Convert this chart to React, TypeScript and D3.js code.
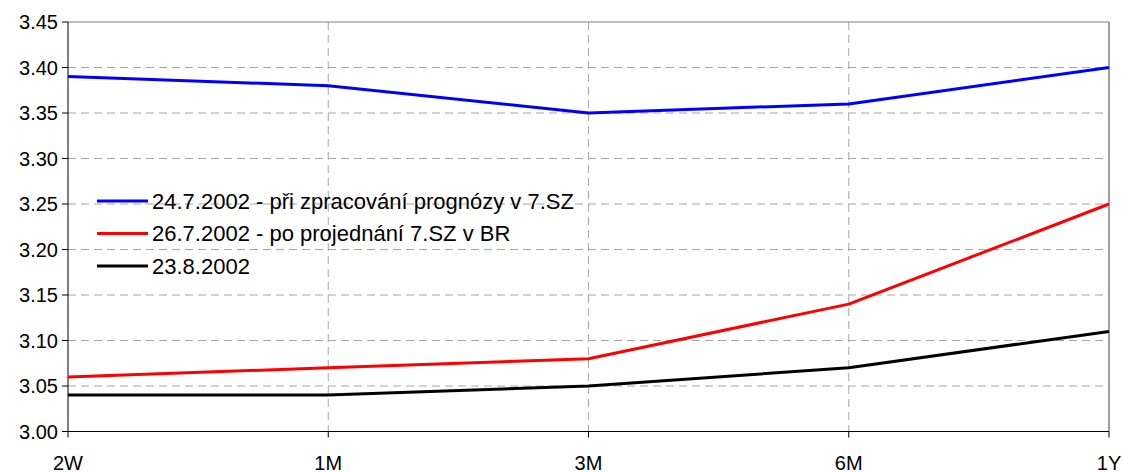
import React from "react";
import * as d3 from "d3";

const categories = ["2W", "1M", "3M", "6M", "1Y"];
const yTicks = [3.0, 3.05, 3.1, 3.15, 3.2, 3.25, 3.3, 3.35, 3.4, 3.45];
const seriesNames = [
  "24.7.2002 - při zpracování prognózy v 7.SZ",
  "26.7.2002 - po projednání 7.SZ v BR",
  "23.8.2002",
];
const seriesColors = ["#0000ff", "#ff0000", "#000000"];
const blueValues = [3.39, 3.38, 3.35, 3.36, 3.4];
const redValues = [3.06, 3.07, 3.08, 3.14, 3.25];
const blackValues = [3.04, 3.04, 3.05, 3.07, 3.11];

export default function App() {
  const W = 1123, H = 472;
  const left = 68, right = 1109, top = 22, bottom = 431.5;
  const x = d3.scalePoint<string>().domain(categories).range([left, right]);
  const y = d3.scaleLinear().domain([3.0, 3.45]).range([bottom, top]);
  const series = [blueValues, redValues, blackValues];
  const line = d3
    .line<number>()
    .x((_, i) => x(categories[i]) as number)
    .y((d) => y(d));
  const font = "Arial, 'Liberation Sans', sans-serif";
  return (
    <svg width={W} height={H} style={{ position: "absolute", left: 0, top: 0 }} fontFamily={font}>
      <rect x={0} y={0} width={W} height={H} fill="#fff" />
      {yTicks.slice(1, -1).map((t) => (
        <line key={t} x1={left} x2={right} y1={y(t)} y2={y(t)} stroke="#a6a6a6" strokeWidth={1} strokeDasharray="8,5" />
      ))}
      {categories.slice(1, -1).map((c) => (
        <line key={c} x1={x(c)} x2={x(c)} y1={top} y2={bottom} stroke="#a6a6a6" strokeWidth={1} strokeDasharray="8,5" />
      ))}
      <line x1={left} x2={right} y1={top} y2={top} stroke="#808080" strokeWidth={1} />
      <line x1={right} x2={right} y1={top} y2={bottom} stroke="#808080" strokeWidth={1.5} />
      <line x1={left} x2={left} y1={top} y2={bottom} stroke="#000" strokeWidth={1} />
      <line x1={left} x2={right} y1={bottom} y2={bottom} stroke="#000" strokeWidth={1} />
      {yTicks.map((t) => (
        <g key={t}>
          <line x1={left - 6} x2={left} y1={y(t)} y2={y(t)} stroke="#000" />
          <text x={left - 10} y={y(t)} dy="0.35em" textAnchor="end" fontSize={20} fill="#000">
            {t.toFixed(2)}
          </text>
        </g>
      ))}
      {categories.map((c) => (
        <g key={c}>
          <line x1={x(c)} x2={x(c)} y1={bottom} y2={bottom + 6} stroke="#000" />
          <text x={x(c)} y={469.5} textAnchor="middle" fontSize={20} fill="#000">
            {c}
          </text>
        </g>
      ))}
      {series.map((s, i) => (
        <path key={i} d={line(s) || ""} fill="none" stroke={seriesColors[i]} strokeWidth={3} strokeLinejoin="round" />
      ))}
      {seriesNames.map((n, i) => {
        const ly = 201 + i * 32.5;
        return (
          <g key={n}>
            <line x1={97} x2={148} y1={ly} y2={ly} stroke={seriesColors[i]} strokeWidth={3} />
            <text x={152} y={ly} dy="0.35em" fontSize={22} fill="#000">
              {n}
            </text>
          </g>
        );
      })}
    </svg>
  );
}
